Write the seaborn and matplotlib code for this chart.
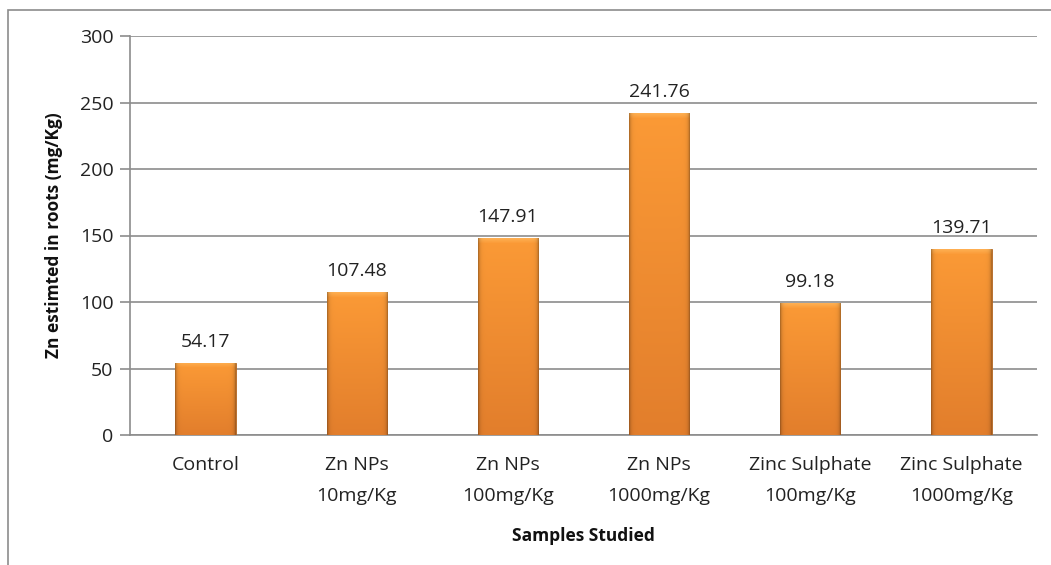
import numpy as np
import pandas as pd
import matplotlib
matplotlib.use("Agg")
import matplotlib.pyplot as plt
from matplotlib.patches import Rectangle
from matplotlib.colors import to_rgb
import seaborn as sns

categories = ["Control", "Zn NPs\n10mg/Kg", "Zn NPs\n100mg/Kg", "Zn NPs\n1000mg/Kg",
              "Zinc Sulphate\n100mg/Kg", "Zinc Sulphate\n1000mg/Kg"]
values = [54.17, 107.48, 147.91, 241.76, 99.18, 139.71]
y_ticks = [0, 50, 100, 150, 200, 250, 300]

df = pd.DataFrame({"sample": categories, "zn": values})

sns.set_theme(style="white")
plt.rcParams["font.family"] = ["Open Sans", "DejaVu Sans"]

fig = plt.figure(figsize=(10.51, 5.65), dpi=100)
ax = fig.add_axes([130 / 1051, 1 - 435 / 565, (1037 - 130) / 1051, (435 - 36) / 565])

sns.barplot(data=df, x="sample", y="zn", color="#F08A2A", width=0.4,
            edgecolor="#B06420", linewidth=0.6, ax=ax, zorder=3)

ax.set_ylim(0, 300)
ax.set_xlim(-0.5, len(categories) - 0.5)

# shaded bevel look on each bar (top bright, bottom deeper, darker sides)
top_c = np.array(to_rgb("#FB9A36"))
bot_c = np.array(to_rgb("#E27E2C"))
bevel_c = np.array(to_rgb("#FFB458"))
fig.canvas.draw()
px_per_unit = ax.transData.transform((0, 1))[1] - ax.transData.transform((0, 0))[1]
for p in ax.patches:
    x0, y0 = p.get_x(), p.get_y()
    w, h = p.get_width(), p.get_height()
    rows = max(int(round(h * px_per_unit)), 2)
    cols = 60
    t = np.linspace(0, 1, rows)[:, None]           # 0 at top, 1 at bottom
    col = top_c[None, :] * (1 - t) + bot_c[None, :] * t
    img = np.repeat(col[:, None, :], cols, axis=1)
    # top bevel band
    nb = min(5, rows // 2)
    for r in range(nb):
        a = 0.8 * (1 - r / nb)
        img[r] = img[r] * (1 - a) + bevel_c * a
    # darker side edges
    xs = np.arange(cols)
    edge = np.minimum(xs, cols - 1 - xs)
    dark = np.clip(1 - 0.28 * np.exp(-edge / 1.6), 0, 1)
    img = img * dark[None, :, None]
    im = ax.imshow(np.clip(img, 0, 1), extent=[x0, x0 + w, y0, y0 + h], aspect="auto",
                   zorder=3.5, interpolation="bilinear", origin="upper")
    im.set_clip_path(p)

for i, v in enumerate(values):
    ax.text(i, v + 9, f"{v:.2f}", ha="center", va="bottom", fontsize=14, color="#222222")

ax.set_yticks(y_ticks)
ax.yaxis.grid(True, color="#8C8C8C", linewidth=1.2, zorder=0)
ax.set_axisbelow(True)
for s in ["top", "right"]:
    ax.spines[s].set_visible(False)
for s in ["left", "bottom"]:
    ax.spines[s].set_color("#8C8C8C")
    ax.spines[s].set_linewidth(1.2)
ax.tick_params(axis="y", left=True, length=7, width=1.2, color="#8C8C8C",
               labelsize=14, labelcolor="#222222", pad=5)
ax.tick_params(axis="x", bottom=False, labelsize=14, labelcolor="#222222", pad=9)
for t in ax.get_xticklabels():
    t.set_linespacing(1.95)

ax.set_xlabel("Samples Studied", fontsize=12.5, fontweight="bold", labelpad=16, color="#111111")
ax.set_ylabel("Zn estimted in roots (mg/Kg)", fontsize=12.5, fontweight="bold",
              labelpad=12, color="#111111")

# outer chart frame
fig.add_artist(Rectangle((8 / 1051, -0.05), 1.1, 1 - 10 / 565 + 0.05,
                         transform=fig.transFigure, fill=False,
                         edgecolor="#8C8C8C", linewidth=1.2))

fig.savefig("out.png", dpi=100)
